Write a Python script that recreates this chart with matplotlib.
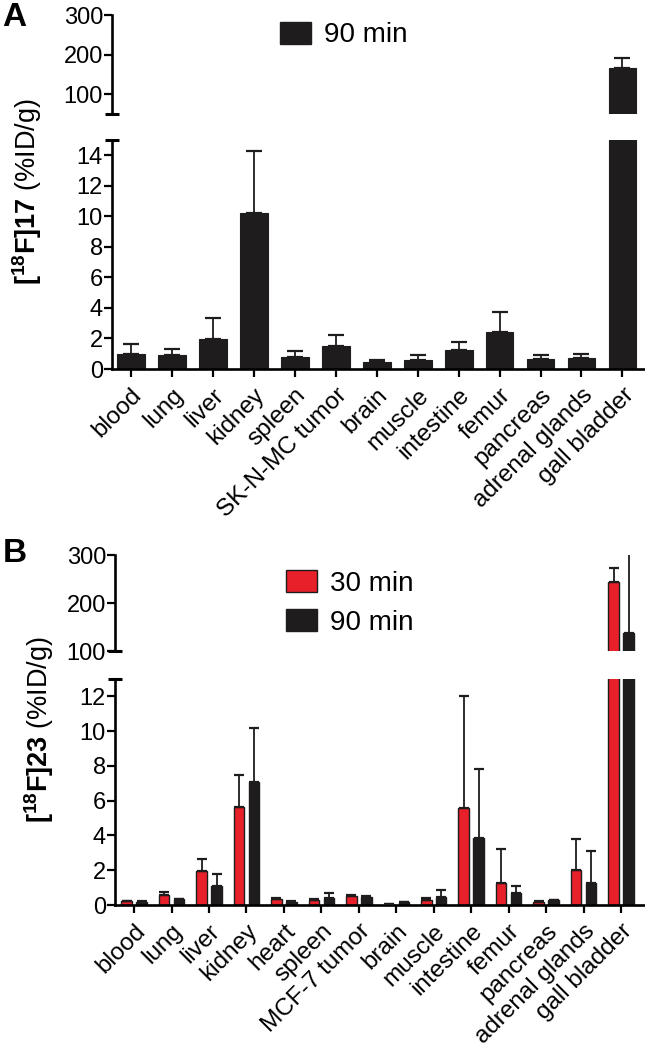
import matplotlib
matplotlib.use("Agg")
import matplotlib.pyplot as plt
from matplotlib.patches import Patch
import numpy as np

plt.rcParams['font.family'] = ['Liberation Sans', 'DejaVu Sans']
plt.rcParams['mathtext.fontset'] = 'custom'
plt.rcParams['mathtext.rm'] = 'Liberation Sans'
plt.rcParams['mathtext.bf'] = 'Liberation Sans:bold'
plt.rcParams['mathtext.it'] = 'Liberation Sans:italic'

# ---------------- data ----------------
organs_a = ["blood", "lung", "liver", "kidney", "spleen", "SK-N-MC tumor", "brain",
            "muscle", "intestine", "femur", "pancreas", "adrenal glands", "gall bladder"]
a90_mean = [0.98, 0.90, 1.99, 10.2, 0.79, 1.53, 0.46, 0.57, 1.23, 2.41, 0.68, 0.74, 166]
a90_err = [0.68, 0.43, 1.36, 4.09, 0.37, 0.72, 0.15, 0.33, 0.54, 1.33, 0.26, 0.26, 25]

organs_b = ["blood", "lung", "liver", "kidney", "heart", "spleen", "MCF-7 tumor", "brain",
            "muscle", "intestine", "femur", "pancreas", "adrenal glands", "gall bladder"]
b30_mean = [0.22, 0.55, 1.97, 5.63, 0.35, 0.30, 0.52, 0.05, 0.28, 5.60, 1.28, 0.20, 2.04, 243]
b30_err = [0.03, 0.20, 0.70, 1.86, 0.06, 0.04, 0.05, 0.01, 0.15, 6.43, 1.97, 0.02, 1.74, 29]
b90_mean = [0.20, 0.32, 1.10, 7.10, 0.20, 0.38, 0.45, 0.15, 0.45, 3.86, 0.68, 0.28, 1.28, 137]
b90_err = [0.03, 0.05, 0.71, 3.08, 0.02, 0.30, 0.05, 0.02, 0.40, 3.97, 0.41, 0.03, 1.81, 200]

RED = '#e8202a'
BLK = '#1e1c1d'
W, H = 645, 1050
YTICK_FS = 17
XTICK_FS = 17.5
LAB_FS = 19.5

fig = plt.figure(figsize=(W / 100, H / 100), dpi=100)


def fr(x0, y_top, x1, y_bot):
    return [x0 / W, 1 - y_bot / H, (x1 - x0) / W, (y_bot - y_top) / H]


def style_axis(ax, lw=1.9):
    for s in ['top', 'right']:
        ax.spines[s].set_visible(False)
    ax.spines['left'].set_linewidth(lw)
    ax.spines['bottom'].set_linewidth(lw)
    ax.tick_params(axis='y', direction='out', length=6, width=1.6, labelsize=YTICK_FS, pad=0.5)
    ax.tick_params(axis='x', direction='out', length=6, width=1.6, labelsize=XTICK_FS, pad=5)


def cap_end(ax, yval):
    ax.plot([0], [yval], marker='_', markersize=10, markeredgewidth=2.2, color='k',
            transform=ax.get_yaxis_transform(), clip_on=False, zorder=5)


# ================= Panel A =================
xa = np.arange(len(organs_a))
axAu = fig.add_axes(fr(112, 15, 645, 114))
axAl = fig.add_axes(fr(112, 140, 645, 369))
for ax in (axAu, axAl):
    ax.bar(xa, a90_mean, width=0.68, color=BLK, edgecolor=BLK, linewidth=0.8, zorder=2)
    ax.errorbar(xa, a90_mean, yerr=[np.zeros(len(xa)), a90_err], fmt='none', ecolor=BLK,
                elinewidth=1.3, capsize=6, capthick=1.6, zorder=3)
    ax.set_xlim(-0.46, 12.55)
    style_axis(ax)
axAu.set_ylim(50, 300)
axAu.set_yticks([100, 200, 300])
axAu.spines['bottom'].set_visible(False)
axAu.tick_params(axis='x', bottom=False, labelbottom=False)
cap_end(axAu, 50)
axAl.set_ylim(0, 15)
axAl.set_yticks(np.arange(0, 15, 2))
axAl.set_xticks(xa)
axAl.set_xticklabels(organs_a, rotation=45, ha='right', rotation_mode='anchor')
cap_end(axAl, 15)
axAu.legend(handles=[Patch(facecolor=BLK, edgecolor=BLK)], labels=['90 min'],
            loc='center left', bbox_to_anchor=(280 / W, 1 - 35 / H),
            bbox_transform=fig.transFigure, frameon=False, fontsize=20,
            handlelength=1.1, handleheight=0.85, handletextpad=0.5, borderpad=0,
            borderaxespad=0)

fig.text(27 / W, 1 - 192 / H, r'$\mathbf{[^{18}F]17}$ (%ID/g)', rotation=90,
         ha='center', va='center', fontsize=LAB_FS)
fig.text(2 / W, 1 - 18 / H, 'A', fontsize=24, fontweight='bold', ha='left', va='center')

# ================= Panel B =================
xb = np.arange(len(organs_b))
off = 0.2
bw = 0.28
axBu = fig.add_axes(fr(115, 555, 645, 651))
axBl = fig.add_axes(fr(115, 679, 645, 905))
for ax in (axBu, axBl):
    ax.bar(xb - off, b30_mean, width=bw, color=RED, edgecolor=BLK, linewidth=1.0, zorder=2)
    ax.bar(xb + off, b90_mean, width=bw, color=BLK, edgecolor=BLK, linewidth=1.0, zorder=2)
    ax.errorbar(xb - off, b30_mean, yerr=[np.zeros(len(xb)), b30_err], fmt='none',
                ecolor=BLK, elinewidth=1.3, capsize=3.5, capthick=1.6, zorder=3)
    ax.errorbar(xb + off, b90_mean, yerr=[np.zeros(len(xb)), b90_err], fmt='none',
                ecolor=BLK, elinewidth=1.3, capsize=3.5, capthick=1.6, zorder=3)
    ax.set_xlim(-0.51, 13.64)
    style_axis(ax)
axBu.set_ylim(100, 300)
axBu.set_yticks([100, 200, 300])
axBu.spines['bottom'].set_visible(False)
axBu.tick_params(axis='x', bottom=False, labelbottom=False)
cap_end(axBu, 100)
axBl.set_ylim(0, 13)
axBl.set_yticks(np.arange(0, 13, 2))
axBl.set_xticks(xb)
axBl.set_xticklabels(organs_b, rotation=45, ha='right', rotation_mode='anchor')
cap_end(axBl, 13)
axBu.legend(handles=[Patch(facecolor=RED, edgecolor=BLK), Patch(facecolor=BLK, edgecolor=BLK)],
            labels=['30 min', '90 min'],
            loc='center left', bbox_to_anchor=(286 / W, 1 - 603 / H),
            bbox_transform=fig.transFigure, frameon=False, fontsize=20,
            handlelength=1.1, handleheight=0.85, handletextpad=0.5, borderpad=0,
            borderaxespad=0, labelspacing=0.45)

fig.text(39 / W, 1 - 730 / H, r'$\mathbf{[^{18}F]23}$ (%ID/g)', rotation=90,
         ha='center', va='center', fontsize=LAB_FS)
fig.text(3 / W, 1 - 553 / H, 'B', fontsize=24, fontweight='bold', ha='left', va='center')

fig.savefig('out.png', dpi=100)
